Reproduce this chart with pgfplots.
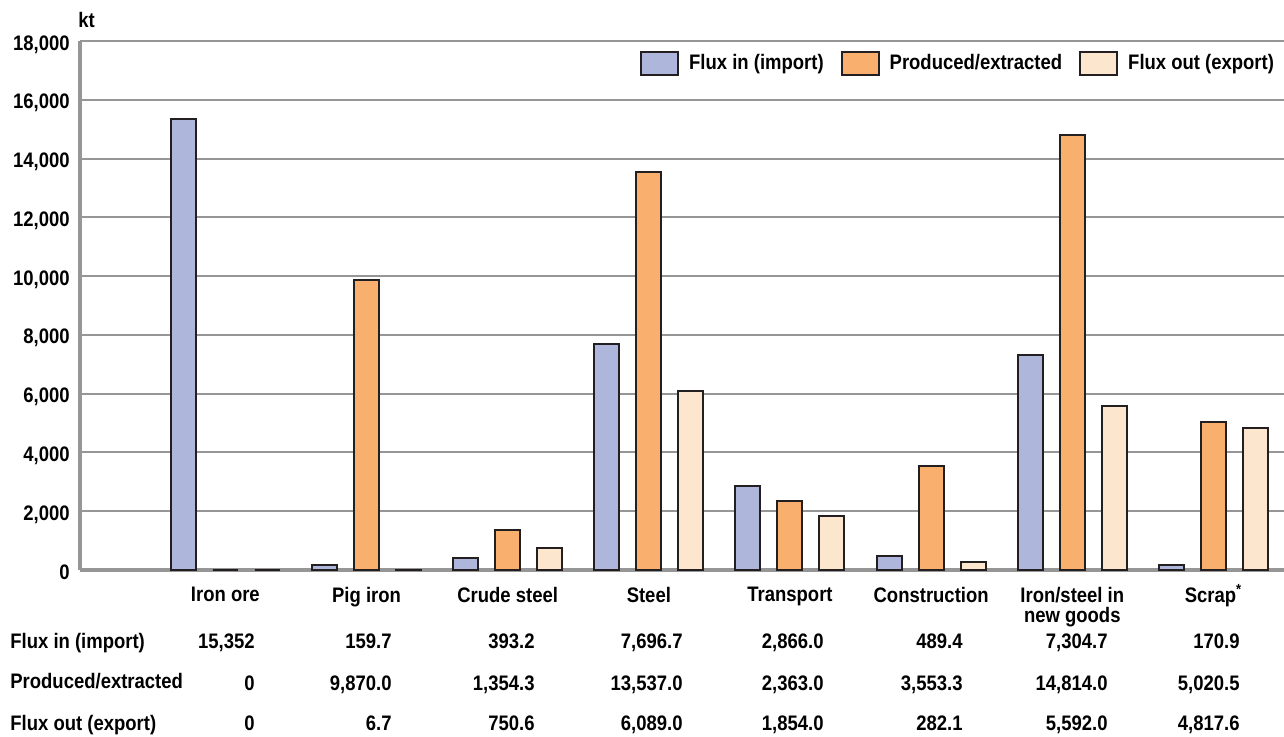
\documentclass[border=0pt]{standalone}
\usepackage{fontspec}
\setmainfont{Liberation Sans}[FakeStretch=0.88]
\usepackage{pgfplots}
\pgfplotsset{compat=1.18}

\definecolor{fluxin}{RGB}{174,182,220}
\definecolor{produced}{RGB}{249,176,110}
\definecolor{fluxout}{RGB}{253,230,206}
\definecolor{edge}{RGB}{35,31,32}
\definecolor{rule}{RGB}{150,150,150}

\pgfplotsset{
  boxlegend/.style={legend image code/.code={\draw[##1] (0pt,-5.75pt) rectangle (18.5pt,5.75pt);}},
}
\tikzset{cell/.style={anchor=base east, inner sep=0pt}}

\begin{document}
\fontsize{10.5}{10}\selectfont\bfseries
\begin{tikzpicture}
\begin{axis}[
  scale only axis, width=602pt, height=264.5pt,
  xmin=-1.03, xmax=7.5, ymin=0, ymax=18000,
  ybar=8.5pt, bar width=12.5pt,
  axis x line*=bottom, axis y line*=left,
  axis line style={-, rule, line width=1.6pt},
  ymajorgrids, grid style={rule, line width=1pt},
  ytick={0,2000,...,18000},
  scaled y ticks=false,
  major tick length=0pt,
  xtick={0,...,7},
  xticklabels={Iron ore, Pig iron, Crude steel, Steel, Transport, Construction,
    {Iron/steel in\\new goods}, {Scrap\smash{\textsuperscript{*}}}},
  xticklabel style={align=center, inner sep=0pt, anchor=north, yshift=-8.5pt},
  yticklabel style={inner sep=0pt, anchor=base east, xshift=-5pt, yshift=-4.5pt,
    /pgf/number format/.cd, fixed, 1000 sep={,}, assume math mode=true},
  legend columns=3,
  legend style={draw=none, fill=none, at={(0.992,0.958)}, anchor=east,
    inner sep=0pt, nodes={inner sep=0pt},
    /tikz/every even column/.append style={column sep=8.5pt},
    /tikz/every odd column/.append style={column sep=5pt}},
]
\addplot[fill=fluxin, draw=edge, line width=1pt, boxlegend] coordinates {
  (0,15352) (1,159.7) (2,393.2) (3,7696.7) (4,2866.0) (5,489.4) (6,7304.7) (7,170.9)};
\addlegendentry{Flux in (import)}
\addplot[fill=produced, draw=edge, line width=1pt, boxlegend] coordinates {
  (0,0) (1,9870.0) (2,1354.3) (3,13537.0) (4,2363.0) (5,3553.3) (6,14814.0) (7,5020.5)};
\addlegendentry{Produced/extracted}
\addplot[fill=fluxout, draw=edge, line width=1pt, boxlegend] coordinates {
  (0,0) (1,6.7) (2,750.6) (3,6089.0) (4,1854.0) (5,282.1) (6,5592.0) (7,4817.6)};
\addlegendentry{Flux out (export)}
\end{axis}

% unit label
\node[anchor=base west, inner sep=0pt] at (-1pt,271.5pt) {kt};

% data table below the chart
\node[anchor=base west, inner sep=0pt] at (-35pt,-39pt) {Flux in (import)};
\node[anchor=base west, inner sep=0pt] at (-35pt,-59pt) {Produced/extracted};
\node[anchor=base west, inner sep=0pt] at (-35pt,-80pt) {Flux out (export)};

% Iron ore
\node[cell] at (87.5pt,-39pt) {15,352};
\node[cell] at (87.5pt,-60pt) {0};
\node[cell] at (87.5pt,-80pt) {0};
% Pig iron
\node[cell] at (156pt,-39pt) {159.7};
\node[cell] at (156pt,-60pt) {9,870.0};
\node[cell] at (156pt,-80pt) {6.7};
% Crude steel
\node[cell] at (227.5pt,-39pt) {393.2};
\node[cell] at (227.5pt,-60pt) {1,354.3};
\node[cell] at (227.5pt,-80pt) {750.6};
% Steel
\node[cell] at (301.5pt,-39pt) {7,696.7};
\node[cell] at (301.5pt,-60pt) {13,537.0};
\node[cell] at (301.5pt,-80pt) {6,089.0};
% Transport
\node[cell] at (372pt,-39pt) {2,866.0};
\node[cell] at (372pt,-60pt) {2,363.0};
\node[cell] at (372pt,-80pt) {1,854.0};
% Construction
\node[cell] at (441.5pt,-39pt) {489.4};
\node[cell] at (441.5pt,-60pt) {3,553.3};
\node[cell] at (441.5pt,-80pt) {282.1};
% Iron/steel in new goods
\node[cell] at (514pt,-39pt) {7,304.7};
\node[cell] at (514pt,-60pt) {14,814.0};
\node[cell] at (514pt,-80pt) {5,592.0};
% Scrap
\node[cell] at (580pt,-39pt) {170.9};
\node[cell] at (580pt,-60pt) {5,020.5};
\node[cell] at (580pt,-80pt) {4,817.6};

\pgfresetboundingbox
\useasboundingbox (-40pt,-83pt) rectangle (602pt,285pt);
\end{tikzpicture}
\end{document}
